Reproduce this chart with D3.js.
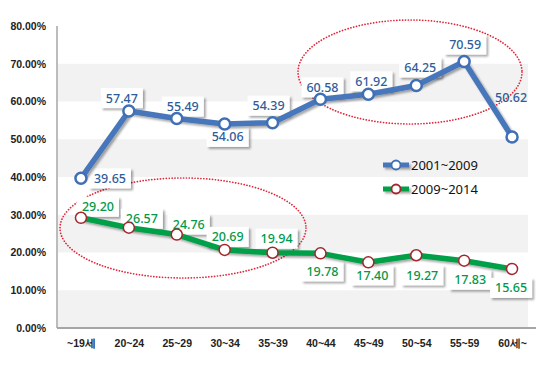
<!DOCTYPE html>
<html>
<head>
<meta charset="utf-8">
<script src="https://cdn.jsdelivr.net/npm/d3@7"></script>
<style>
  body { margin: 0; background: #fff; }
  svg { display: block; }
  .ytick text { font-family: "Liberation Sans", Arial, sans-serif; font-weight: bold; font-size: 10.5px; fill: #222; }
  .xtick text { font-family: "Liberation Sans", Arial, sans-serif; font-weight: bold; font-size: 10.5px; fill: #222; }
  .lbl { font-family: "Noto Sans", sans-serif; font-size: 12.5px; font-weight: 500; }
  .leg { font-family: "Noto Sans", sans-serif; font-size: 13px; fill: #111; }
</style>
</head>
<body>
<div id="chart"></div>
<script>
// data
var categories = ["~19세", "20~24", "25~29", "30~34", "35~39", "40~44", "45~49", "50~54", "55~59", "60세~"];
var series2001 = [39.65, 57.47, 55.49, 54.06, 54.39, 60.58, 61.92, 64.25, 70.59, 50.62];
var series2009 = [29.20, 26.57, 24.76, 20.69, 19.94, 19.78, 17.40, 19.27, 17.83, 15.65];
var seriesNames = ["2001~2009", "2009~2014"];
var yTicks = [0, 10, 20, 30, 40, 50, 60, 70, 80];

var width = 550, height = 367;

var svg = d3.select("#chart")
  .append("svg")
    .attr("width", width)
    .attr("height", height);

var defs = svg.append("defs");
var f = defs.append("filter").attr("id", "shadow")
    .attr("filterUnits", "userSpaceOnUse")
    .attr("x", 0).attr("y", 0).attr("width", width).attr("height", height);
f.append("feDropShadow").attr("dx", 2).attr("dy", 2).attr("stdDeviation", 1.2).attr("flood-color", "#000").attr("flood-opacity", 0.35);

// scales
var x = d3.scalePoint()
    .domain(categories)
    .range([57, 536])
    .padding(0.5);

var y = d3.scaleLinear()
    .domain([0, 80])
    .range([328, 26]);

// gray bands
for (var i = 0; i < yTicks.length - 1; i += 2) {
  svg.append("rect")
    .attr("x", 58)
    .attr("y", y(yTicks[i + 1]))
    .attr("width", 528 - 58)
    .attr("height", y(yTicks[i]) - y(yTicks[i + 1]))
    .attr("fill", "#f2f2f2");
}

// y axis
var yAxis = svg.append("g")
    .attr("class", "ytick")
    .attr("transform", "translate(57,0)")
    .call(d3.axisLeft(y).tickValues(yTicks).tickSize(0).tickPadding(11)
      .tickFormat(function(d) { return d.toFixed(2) + "%"; }));
yAxis.select(".domain").remove();

svg.append("line")
    .attr("x1", 57).attr("x2", 57)
    .attr("y1", y(80)).attr("y2", y(0))
    .attr("stroke", "#a6a6a6").attr("stroke-width", 1.5);
svg.append("line")
    .attr("x1", 57).attr("x2", 536)
    .attr("y1", y(0)).attr("y2", y(0))
    .attr("stroke", "#a6a6a6").attr("stroke-width", 2);

// x axis labels
var xAxis = svg.append("g")
    .attr("class", "xtick")
    .attr("transform", "translate(0," + y(0) + ")")
    .call(d3.axisBottom(x).tickSize(0).tickPadding(12));
xAxis.select(".domain").remove();

// dotted ellipses
svg.append("ellipse")
    .attr("cx", 410).attr("cy", 72).attr("rx", 112).attr("ry", 52)
    .attr("fill", "none").attr("stroke", "#e2263a").attr("stroke-width", 1.7)
    .attr("stroke-dasharray", "0.1,2.8").attr("stroke-linecap", "round");
svg.append("ellipse")
    .attr("cx", 183).attr("cy", 228).attr("rx", 123).attr("ry", 50)
    .attr("fill", "none").attr("stroke", "#e2263a").attr("stroke-width", 1.7)
    .attr("stroke-dasharray", "0.1,2.8").attr("stroke-linecap", "round");

var line = d3.line()
    .x(function(d, i) { return x(categories[i]); })
    .y(function(d) { return y(d); });

// label placement [dx, dy] of text centre from the point
var place2001 = [[29, 0], [-7, -13], [6, -12], [3, 13], [-4, -17], [2, -12], [3, -13], [4, -18], [1, -17], [-1, -39]];
var place2009 = [[17, -11], [13, -9], [12, -10], [3, -13], [4, -14], [2, 18], [4, 13], [6, 20], [6, 19], [-1, 19]];

function drawSeries(data, color, markerStroke, markerWidth) {
  var g = svg.append("g");
  g.append("path")
    .datum(data)
    .attr("d", line)
    .attr("fill", "none")
    .attr("stroke", color)
    .attr("stroke-width", 5.5)
    .attr("stroke-linejoin", "round")
    .attr("filter", "url(#shadow)");
  g.selectAll("circle")
    .data(data)
    .enter()
    .append("circle")
      .attr("cx", function(d, i) { return x(categories[i]); })
      .attr("cy", function(d) { return y(d); })
      .attr("r", 5.5)
      .attr("fill", "#fff")
      .attr("stroke", markerStroke)
      .attr("stroke-width", markerWidth);
  return g;
}

function drawLabels(data, place, textColor, noFill) {
  var g = svg.append("g");
  data.forEach(function(d, i) {
    var cx = x(categories[i]) + place[i][0];
    var cy = y(d) + place[i][1];
    var lg = g.append("g");
    var rect = lg.append("rect");
    var t = lg.append("text")
      .attr("class", "lbl")
      .attr("x", cx).attr("y", cy)
      .attr("text-anchor", "middle")
      .attr("dominant-baseline", "central")
      .attr("fill", textColor)
      .text(d.toFixed(2));
    var bb = t.node().getBBox();
    var clear = noFill && noFill(i);
    rect.attr("x", bb.x - 5).attr("y", cy - 10)
      .attr("width", bb.width + 10).attr("height", 20)
      .attr("fill", clear ? "none" : "#fff")
      .attr("filter", clear ? null : "url(#shadow)");
  });
}

drawLabels(series2009, place2009, "#00994a");
drawLabels(series2001, place2001, "#2f5d9a", function(i) { return i === 9; });
drawSeries(series2009, "#04a04a", "#a3262e", 1.5);
drawSeries(series2001, "#4677ba", "#3f6fb5", 2.5);

// legend
var legend = [
  {name: seriesNames[0], color: "#4677ba", mk: "#3f6fb5", y: 165},
  {name: seriesNames[1], color: "#04a04a", mk: "#a3262e", y: 189}
];
legend.forEach(function(l) {
  svg.append("rect")
    .attr("x", 383).attr("width", 26)
    .attr("y", l.y - 2.5).attr("height", 5)
    .attr("fill", l.color)
    .attr("filter", "url(#shadow)");
  svg.append("circle")
    .attr("cx", 396).attr("cy", l.y).attr("r", 4.5)
    .attr("fill", "#fff").attr("stroke", l.mk).attr("stroke-width", 1.8);
  svg.append("text")
    .attr("class", "leg")
    .attr("x", 411).attr("y", l.y)
    .attr("dominant-baseline", "central")
    .text(l.name);
});
</script>
</body>
</html>
